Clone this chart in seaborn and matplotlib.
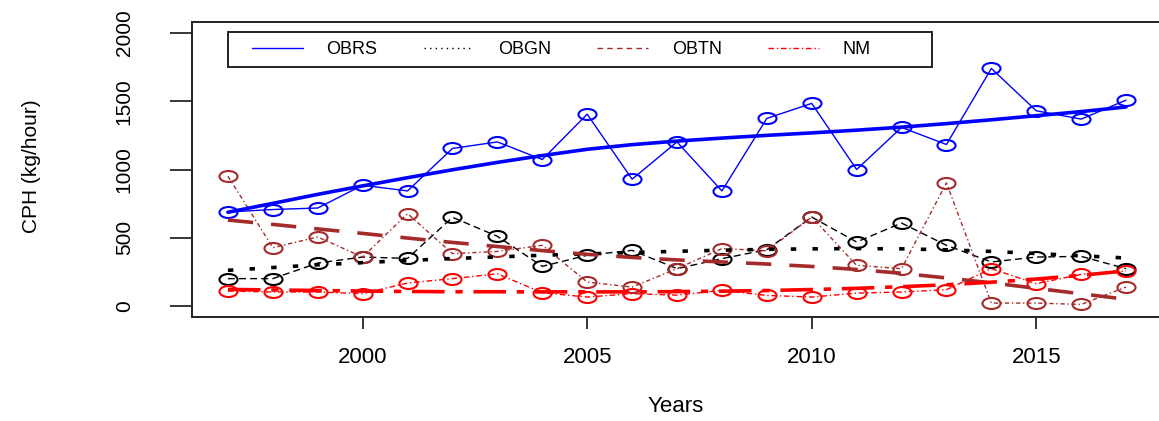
import numpy as np
import pandas as pd
import matplotlib
matplotlib.use("Agg")
import matplotlib.pyplot as plt
import seaborn as sns
from matplotlib.path import Path
from matplotlib.transforms import Affine2D
from matplotlib.lines import Line2D
from matplotlib.patches import Rectangle

# jaren en waarden
years = [1997, 1998, 1999, 2000, 2001, 2002, 2003, 2004, 2005, 2006, 2007,
         2008, 2009, 2010, 2011, 2012, 2013, 2014, 2015, 2016, 2017]
obrs = [689, 707, 718, 885, 843, 1154, 1202, 1073, 1405, 929, 1202,
        843, 1374, 1484, 1000, 1308, 1183, 1740, 1430, 1369, 1508]
obgn = [201, 201, 315, 359, 349, 650, 511, 291, 372, 408, 274,
        347, 413, 652, 469, 608, 445, 323, 359, 364, 274]
obtn = [951, 428, 506, 359, 677, 384, 400, 445, 176, 139, 274,
        421, 405, 652, 298, 274, 902, 22, 22, 12, 139]
nm = [110, 103, 103, 91, 169, 201, 236, 98, 66, 91, 80,
      115, 78, 66, 95, 103, 120, 274, 164, 232, 257]

obrs_trend = [687, 752, 818, 880, 940, 998, 1052, 1102, 1148, 1182, 1208,
              1230, 1250, 1268, 1288, 1310, 1336, 1364, 1394, 1424, 1458]
obgn_trend = [262, 282, 302, 318, 334, 348, 360, 372, 382, 392, 401,
              409, 415, 419, 421, 419, 412, 400, 385, 368, 352]
obtn_trend = [630, 598, 565, 532, 498, 466, 436, 406, 379, 356, 338,
              323, 308, 290, 268, 240, 206, 170, 130, 90, 50]
nm_trend = [122, 118, 114, 110, 107, 105, 105, 104, 104, 104, 106,
            109, 114, 121, 130, 142, 156, 175, 198, 225, 258]

names = ["OBRS", "OBGN", "OBTN", "NM"]
colors = ["#0000FF", "#000000", "#A52A2A", "#FF0000"]

df = pd.DataFrame({"year": years, "OBRS": obrs, "OBGN": obgn, "OBTN": obtn, "NM": nm})
trend = pd.DataFrame({"year": years, "OBRS": obrs_trend, "OBGN": obgn_trend,
                      "OBTN": obtn_trend, "NM": nm_trend})

sns.set_style("ticks")
plt.rcParams["font.family"] = ["Liberation Sans", "DejaVu Sans"]
plt.rcParams["text.color"] = "black"
plt.rcParams["axes.labelcolor"] = "black"

fig = plt.figure(figsize=(11.59, 4.21), dpi=100)
ax = fig.add_axes([192 / 1159, 1 - 317 / 421, 970 / 1159, 295 / 421])

# uitgerekte cirkel als marker (beeld is horizontaal uitgerekt)
ell = Path.unit_circle().transformed(Affine2D().scale(1.64, 1.0))

thin_styles = ["-", (0, (5, 3)), (0, (3, 2, 1, 2)), (0, (4, 2, 1, 2))]
for name, col, ls in zip(names, colors, thin_styles):
    sns.lineplot(data=df, x="year", y=name, ax=ax, color=col, lw=1.0, linestyle=ls,
                 marker=ell, markersize=13, mfc="none", mec=col, mew=1.5, legend=False)

thick_styles = ["-", (0, (1.5, 4.5)), (0, (7, 5)), (0, (9, 3, 2, 3))]
for name, col, ls in zip(names, colors, thick_styles):
    sns.lineplot(data=trend, x="year", y=name, ax=ax, color=col, lw=2.6, linestyle=ls,
                 legend=False)

ax.set_xlim(1996.2, 2017.8)
ax.set_ylim(-80, 2080)
ax.set_xticks([2000, 2005, 2010, 2015])
ax.set_yticks([0, 500, 1000, 1500, 2000])
ax.set_yticklabels(["0", "500", "1000", "1500", "2000"], rotation=90, va="center")
ax.tick_params(axis="x", length=8.6, width=1.1, pad=13, labelsize=16, colors="black")
ax.tick_params(axis="y", length=16, width=1.1, pad=26, labelsize=15, colors="black")

for s in ["left", "bottom", "top"]:
    ax.spines[s].set_color("#222222")
    ax.spines[s].set_linewidth(1.4)
ax.spines["right"].set_visible(False)

ax.set_xlabel("Years", fontsize=16, va="center")
ax.xaxis.set_label_coords(0.499, -0.302)
ax.set_ylabel("CPH (kg/hour)", fontsize=15, va="center")
ax.yaxis.set_label_coords(-0.165, 0.512)

# legenda met eigen kader
fig.patches.append(Rectangle((228 / 1159, 1 - 67 / 421), 704 / 1159, 35 / 421,
                             transform=fig.transFigure, fill=False,
                             edgecolor="#222222", lw=1.4))
leg_styles = ["-", (0, (1, 3)), (0, (4, 3)), (0, (4, 2, 1, 2))]
handles = [Line2D([], [], color=c, lw=1.0, linestyle=ls) for c, ls in zip(colors, leg_styles)]
fig.legend(handles, names, loc="center left", bbox_to_anchor=(252 / 1159, 1 - 50 / 421),
           ncol=4, frameon=False, fontsize=13, borderpad=0, borderaxespad=0,
           handlelength=2.8, handletextpad=1.33, columnspacing=2.55)

fig.savefig("out.png", dpi=100)
